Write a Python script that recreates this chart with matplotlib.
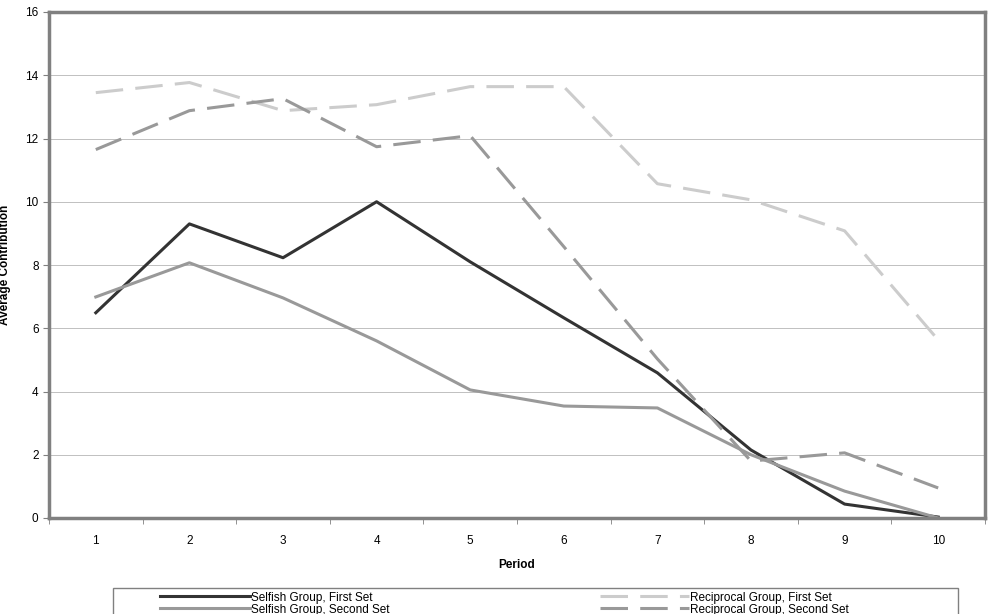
import matplotlib.pyplot as plt
from matplotlib.patches import Rectangle
from matplotlib.ticker import MultipleLocator, FixedLocator

plt.rcParams['font.family'] = ['Liberation Sans', 'DejaVu Sans']

# Data
periods = [1, 2, 3, 4, 5, 6, 7, 8, 9, 10]
selfish_first = [6.49, 9.30, 8.23, 10.0, 8.10, 6.33, 4.59, 2.15, 0.44, 0.03]
selfish_second = [6.99, 8.07, 6.96, 5.60, 4.05, 3.54, 3.48, 2.00, 0.85, 0.0]
recip_first = [13.45, 13.77, 12.88, 13.07, 13.64, 13.64, 10.57, 10.06, 9.08, 5.63]
recip_second = [11.65, 12.88, 13.26, 11.74, 12.09, 8.58, 5.03, 1.80, 2.06, 0.95]

W, H = 997, 614
fig = plt.figure(figsize=(W / 100, H / 100), dpi=100)
ax = fig.add_axes([49 / W, 1 - 518 / H, (985 - 49) / W, (518 - 12) / H])

lw = 2.2
ax.plot(periods, selfish_first, color='#333333', lw=lw, label='Selfish Group, First Set')
ax.plot(periods, selfish_second, color='#999999', lw=lw, label='Selfish Group, Second Set')
ax.plot(periods, recip_first, color='#cccccc', lw=lw, dashes=(9, 4), label='Reciprocal Group, First Set')
ax.plot(periods, recip_second, color='#999999', lw=lw, dashes=(9, 4), label='Reciprocal Group, Second Set')

ax.set_xlim(0.5, 10.5)
ax.set_ylim(0, 16)
ax.set_xticks(periods)
ax.xaxis.set_minor_locator(FixedLocator([p + 0.5 for p in range(0, 11)]))
ax.tick_params(axis='x', which='major', length=0, labelsize=8.5, pad=12)
ax.tick_params(axis='x', which='minor', length=4, color='#808080', direction='out')
ax.yaxis.set_major_locator(MultipleLocator(2))
ax.tick_params(axis='y', length=4, labelsize=8.5, color='#808080', direction='out')
ax.grid(axis='y', color='#c0c0c0', lw=0.7)
ax.set_axisbelow(True)
for s in ax.spines.values():
    s.set_color('#808080')
    s.set_linewidth(2.5)

ax.set_xlabel('Period', fontsize=8.5, fontweight='bold', labelpad=9)
ax.set_ylabel('Average Contribution', fontsize=8.5, fontweight='bold', labelpad=10)

# legend box like the Excel one, cut by the bottom edge
fig.patches.append(Rectangle((113 / W, 1 - 622 / H), (958 - 113) / W, 34 / H,
                             transform=fig.transFigure, fill=False,
                             edgecolor='#808080', lw=1))
leg = fig.legend(loc='upper left', bbox_to_anchor=(160 / W, 1 - 591.5 / H),
                 ncol=2, fontsize=8.5, handlelength=7.6, labelspacing=0,
                 columnspacing=17.8, borderpad=0, frameon=False,
                 handletextpad=0.1, borderaxespad=0)

fig.savefig('out.png', dpi=100)
